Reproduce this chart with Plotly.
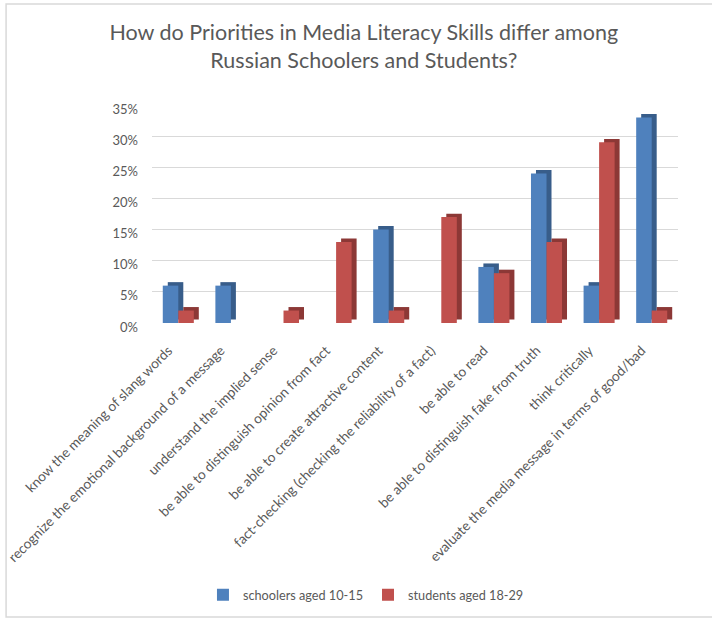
import plotly.graph_objects as go

categories = [
    "know the meaning of slang words",
    "recognize the emotional background of a message",
    "understand the implied sense",
    "be able to distinguish opinion from fact",
    "be able to create attractive content",
    "fact-checking (checking the reliability of a fact)",
    "be able to read",
    "be able to distinguish fake from truth",
    "think critically",
    "evaluate the media message in terms of good/bad",
]
schoolers = [0.06, 0.06, 0.00, 0.00, 0.15, 0.00, 0.09, 0.24, 0.06, 0.33]
students = [0.02, 0.00, 0.02, 0.13, 0.02, 0.17, 0.08, 0.13, 0.29, 0.02]
series_names = ["schoolers aged 10-15", "students aged 18-29"]

FONT = "Lato"
GREY = "#595959"
BW = 0.295      # bar width in category units
DX = 0.095      # 3D depth shift (x, category units)
DY = 0.0056     # 3D depth shift (y, value units)

x = list(range(len(categories)))
fig = go.Figure()

specs = [
    (schoolers, series_names[0], "#4F81BD", "#385D8A", -BW),
    (students, series_names[1], "#C0504D", "#8C3836", 0.0),
]
for vals, name, front, side, off in specs:
    # depth (side + top) face
    fig.add_trace(go.Bar(
        x=x, y=vals, base=[DY] * len(vals), width=BW, offset=off + DX,
        marker=dict(color=side, line=dict(width=0)), showlegend=False,
        hoverinfo="skip",
    ))
    # front face
    fig.add_trace(go.Bar(
        x=x, y=vals, width=BW, offset=off, name=name,
        marker=dict(color=front, line=dict(width=0)),
    ))

fig.update_layout(
    width=712, height=618,
    margin=dict(l=152, r=34, t=105, b=295, autoexpand=False),
    paper_bgcolor="white", plot_bgcolor="white",
    barmode="overlay",
    font=dict(family=FONT, color=GREY, size=12),
    title=dict(
        text="How do Priorities in Media Literacy Skills differ among<br>Russian Schoolers and Students?",
        font=dict(family=FONT, size=21.5, color=GREY),
        x=0.511, xanchor="center", xref="container",
        y=1 - 40 / 618, yanchor="top", yref="container",
        automargin=False,
    ),
    xaxis=dict(
        range=[-0.5, 9.5], tickvals=x, ticktext=categories, tickangle=-45,
        tickfont=dict(family=FONT, size=13.7, color=GREY),
        showgrid=False, zeroline=False, showline=False, ticks="",
        ticklabelstandoff=16, ticklabelshift=-10, automargin=False,
    ),
    yaxis=dict(
        range=[0, 0.35], dtick=0.05, tickformat=".0%",
        tickfont=dict(family=FONT, size=13, color=GREY),
        showgrid=True, gridcolor="#D9D9D9", gridwidth=1.2,
        zeroline=False, showline=False, ticks="", ticklabelstandoff=13,
        ticklabelshift=4, automargin=False,
    ),
    legend=dict(
        orientation="h", xref="container", yref="container",
        x=0.514, xanchor="center", y=1 - 595 / 618, yanchor="middle",
        font=dict(family=FONT, size=12.7, color=GREY),
        traceorder="normal", itemwidth=30,
    ),
    shapes=[dict(
        type="rect", xref="paper", yref="paper",
        x0=(6 - 152) / 526.3, x1=(715 - 152) / 526.3,
        y0=(323 - 617) / 218, y1=(323 - 4) / 218,
        line=dict(color="#D9D9D9", width=1.5), fillcolor="rgba(0,0,0,0)",
        layer="below",
    )],
)

fig.write_html("out.html")
